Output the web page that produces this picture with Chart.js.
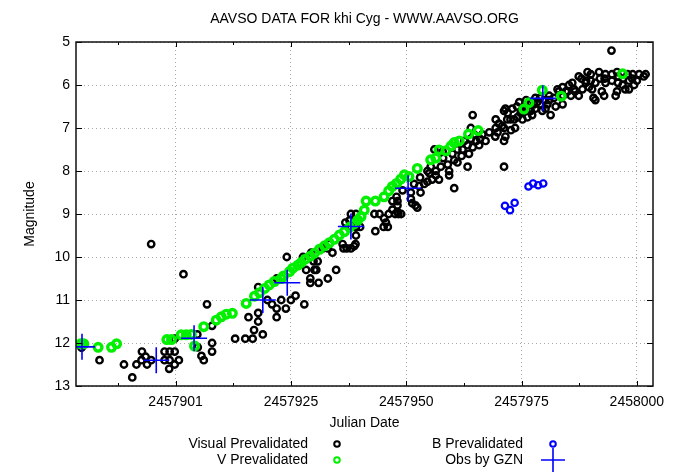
<!DOCTYPE html>
<html>
<head>
<meta charset="utf-8">
<title>AAVSO DATA FOR khi Cyg</title>
<script src="https://cdn.jsdelivr.net/npm/chart.js@4.4.0/dist/chart.umd.min.js"></script>
<style>
  html, body { margin: 0; padding: 0; background: #fff; }
  #wrap { width: 675px; height: 473px; }
</style>
</head>
<body>
<div id="wrap"><canvas id="lightCurve" width="675" height="473"></canvas></div>
<script>
// Light curve data: [Julian Date, magnitude]
const visualObs = [
    [2457879.6, 12.11], [2457883.5, 12.40], [2457888.8, 12.50], [2457890.6, 12.80],
    [2457891.5, 12.50], [2457892.7, 12.20], [2457893.5, 12.32], [2457892.6, 12.40],
    [2457893.8, 12.50], [2457894.7, 12.40], [2457894.7, 9.70], [2457897.6, 12.20],
    [2457898.7, 12.20], [2457899.8, 12.20], [2457897.6, 12.40], [2457898.7, 12.40],
    [2457899.8, 12.50], [2457898.6, 12.60], [2457900.7, 12.40], [2457899.8, 11.90],
    [2457901.7, 10.40], [2457904.7, 11.80], [2457904.8, 12.10], [2457905.6, 12.30],
    [2457906.1, 12.40], [2457906.8, 11.10], [2457907.9, 11.60], [2457907.9, 12.00],
    [2457907.9, 12.20], [2457912.9, 11.90], [2457915.1, 11.90], [2457915.8, 11.40],
    [2457916.7, 11.90], [2457917.0, 11.70], [2457917.9, 11.50], [2457917.9, 11.30],
    [2457917.9, 10.70], [2457918.9, 11.80], [2457919.9, 11.00], [2457920.9, 11.10],
    [2457921.9, 11.20], [2457921.9, 11.40], [2457921.9, 10.50], [2457922.9, 11.00],
    [2457923.9, 11.20], [2457924.1, 10.00], [2457925.0, 11.00], [2457926.0, 10.90],
    [2457927.9, 11.10], [2457927.6, 10.00], [2457928.3, 10.30], [2457929.2, 10.50],
    [2457929.2, 10.60], [2457930.1, 10.30], [2457931.0, 10.60], [2457929.9, 10.10],
    [2457930.8, 10.10], [2457929.4, 9.90], [2457930.5, 10.30], [2457931.9, 9.80],
    [2457933.0, 9.80], [2457933.3, 9.70], [2457934.0, 9.90], [2457934.8, 10.30],
    [2457933.0, 10.50], [2457936.2, 9.70], [2457936.4, 9.80], [2457937.1, 9.80],
    [2457938.0, 9.80], [2457938.7, 9.75], [2457939.0, 9.70], [2457939.1, 9.50],
    [2457936.8, 9.20], [2457938.0, 9.00], [2457939.1, 9.00], [2457937.7, 9.15],
    [2457938.0, 9.30], [2457939.1, 9.30], [2457940.0, 9.30], [2457943.3, 9.40],
    [2457943.1, 9.00], [2457944.2, 9.00], [2457945.2, 9.10], [2457946.2, 9.00],
    [2457945.6, 9.20], [2457945.1, 9.30], [2457946.0, 9.30], [2457947.0, 8.70],
    [2457947.9, 8.60], [2457948.1, 8.70], [2457948.1, 8.80], [2457948.1, 8.95],
    [2457947.0, 8.90], [2457948.3, 9.00], [2457947.6, 9.00], [2457948.9, 9.00],
    [2457949.2, 8.45], [2457951.0, 8.50], [2457951.0, 8.65], [2457951.3, 8.75],
    [2457952.0, 8.80], [2457952.4, 8.85], [2457951.7, 8.30], [2457952.8, 8.35],
    [2457953.1, 8.50], [2457953.9, 8.30], [2457954.6, 8.25], [2457955.6, 8.20],
    [2457956.4, 8.10], [2457957.1, 8.20], [2457954.6, 8.00], [2457955.3, 7.90],
    [2457956.4, 8.00], [2457957.5, 7.90], [2457959.3, 8.00], [2457959.3, 8.10],
    [2457960.4, 8.40], [2457956.1, 7.50], [2457957.9, 7.55], [2457960.4, 7.75],
    [2457961.1, 7.80], [2457961.1, 7.50], [2457962.2, 7.50], [2457962.6, 7.30],
    [2457963.3, 7.40], [2457963.6, 7.60], [2457963.3, 7.90], [2457964.4, 7.45],
    [2457965.2, 7.30], [2457965.8, 7.40], [2457966.5, 7.15], [2457967.2, 7.30],
    [2457964.0, 7.00], [2457964.4, 6.70], [2457964.7, 7.15], [2457969.4, 6.80],
    [2457969.4, 7.00], [2457969.3, 7.20], [2457969.8, 7.10], [2457970.1, 6.90],
    [2457970.8, 6.95], [2457971.2, 6.60], [2457971.5, 6.55], [2457971.2, 7.00],
    [2457971.2, 7.30], [2457971.5, 7.20], [2457971.9, 6.80], [2457972.6, 6.80],
    [2457972.7, 7.05], [2457971.2, 7.90], [2457973.4, 6.80], [2457973.6, 7.00],
    [2457974.1, 6.75], [2457974.8, 6.65], [2457975.2, 6.80], [2457975.5, 6.50],
    [2457976.3, 6.75], [2457976.6, 6.55], [2457977.0, 6.60], [2457977.3, 6.70],
    [2457977.7, 6.45], [2457978.4, 6.40], [2457979.0, 6.30], [2457980.2, 6.55],
    [2457980.6, 6.45], [2457981.3, 6.70], [2457982.4, 6.50], [2457982.8, 6.10],
    [2457983.1, 6.15], [2457983.9, 6.05], [2457983.9, 6.45], [2457984.6, 6.15],
    [2457985.3, 6.00], [2457985.7, 6.25], [2457986.4, 6.10], [2457986.6, 6.15],
    [2457987.4, 5.80], [2457987.4, 6.25], [2457988.2, 6.10], [2457988.9, 5.95],
    [2457989.3, 5.70], [2457989.6, 6.05], [2457990.0, 5.90], [2457990.3, 6.10],
    [2457990.6, 6.30], [2457991.0, 5.95], [2457991.0, 6.35], [2457991.8, 5.70],
    [2457992.4, 6.15], [2457992.9, 6.25], [2457993.2, 5.75], [2457993.2, 5.95],
    [2457994.5, 5.20], [2457994.6, 5.75], [2457994.6, 5.90], [2457995.4, 6.25],
    [2457995.7, 5.70], [2457995.7, 6.15], [2457995.9, 5.95], [2457996.9, 6.00],
    [2457997.5, 6.10], [2457998.0, 5.75], [2457998.3, 5.90], [2457998.3, 6.10],
    [2457999.1, 5.75], [2457999.4, 6.00], [2458000.5, 5.75], [2458001.5, 5.80],
    [2458001.9, 5.75], [2457974.5, 6.40], [2457978.0, 6.55], [2457979.5, 6.60],
    [2457981.0, 6.35], [2457976.0, 6.35],
    [2457972.0, 6.65], [2457973.0, 6.55], [2457974.0, 6.50], [2457975.0, 6.60],
    [2457976.0, 6.55], [2457977.0, 6.40], [2457978.0, 6.30], [2457979.0, 6.45],
    [2457980.0, 6.35], [2457981.0, 6.25], [2457982.0, 6.30], [2457984.0, 6.25],
    [2457985.0, 6.15], [2457986.0, 5.95], [2457988.0, 5.85], [2457989.0, 5.90],
    [2457990.0, 5.75], [2457992.0, 5.85], [2457993.0, 5.85], [2457996.0, 5.80],
    [2457997.0, 5.85], [2457999.0, 5.85], [2458000.0, 5.90],
    [2457958.0, 7.70], [2457959.0, 7.85], [2457960.0, 7.60], [2457962.0, 7.65],
    [2457964.0, 7.25], [2457966.0, 7.25], [2457968.0, 7.10], [2457953.0, 8.15],
    [2457955.0, 8.05]
];

const vObs = [
    [2457879.4, 12.02], [2457880.1, 12.02], [2457883.2, 12.10], [2457886.1, 12.10],
    [2457887.2, 12.02], [2457898.1, 11.92], [2457899.1, 11.92], [2457901.2, 11.81],
    [2457902.3, 11.81], [2457903.4, 11.80], [2457904.1, 12.07], [2457906.1, 11.62],
    [2457908.8, 11.47], [2457909.9, 11.39], [2457911.0, 11.33], [2457912.3, 11.31],
    [2457915.3, 11.08], [2457917.1, 10.91], [2457918.2, 10.83], [2457919.3, 10.73],
    [2457920.3, 10.65], [2457921.4, 10.57], [2457922.9, 10.50], [2457923.4, 10.44],
    [2457924.7, 10.34], [2457925.4, 10.26], [2457926.5, 10.19], [2457927.2, 10.13],
    [2457928.1, 10.05], [2457929.2, 9.98], [2457930.1, 9.91], [2457931.2, 9.82],
    [2457932.3, 9.74], [2457933.3, 9.67], [2457934.4, 9.59], [2457935.5, 9.49],
    [2457936.6, 9.41], [2457937.7, 9.31], [2457938.7, 9.23], [2457939.5, 9.14],
    [2457940.2, 9.06], [2457940.9, 8.91], [2457941.3, 8.70], [2457943.3, 8.70],
    [2457945.2, 8.60], [2457946.2, 8.46], [2457947.0, 8.36], [2457947.9, 8.29],
    [2457948.8, 8.19], [2457949.6, 8.09], [2457950.6, 8.13], [2457952.4, 7.94],
    [2457955.3, 7.74], [2457956.4, 7.70], [2457957.1, 7.51], [2457958.6, 7.53],
    [2457959.7, 7.42], [2457960.4, 7.34], [2457961.5, 7.30], [2457963.5, 7.14],
    [2457965.6, 7.06], [2457975.5, 6.56], [2457976.6, 6.41], [2457979.5, 6.12],
    [2457983.6, 6.26], [2457996.9, 5.74]
];

const bObs = [
    [2457971.4, 8.81], [2457972.5, 8.91], [2457973.5, 8.74], [2457976.5, 8.36],
    [2457977.5, 8.29], [2457978.6, 8.33], [2457979.7, 8.29]
];

const gznObs = [
    [2457879.7, 12.09], [2457895.8, 12.40], [2457904.0, 11.89], [2457918.9, 11.00],
    [2457924.2, 10.60], [2457938.0, 9.29], [2457950.4, 8.40], [2457979.6, 6.31]
];

const seriesLabels = ['Visual Prevalidated', 'V Prevalidated', 'B Prevalidated', 'Obs by GZN'];

const xRange = [2457878.4, 2458003.5];
const xTickValues = [2457900, 2457925, 2457950, 2457975, 2458000];
const xTickLabels = ['2457901', '2457925', '2457950', '2457975', '2458000'];
const xMinorTicks = [2457887.5, 2457912.5, 2457937.5, 2457962.5, 2457987.5];
const yRange = [5, 13];

const FONT = '"Liberation Sans", Arial, Helvetica, sans-serif';

const toPoints = (rows) => rows.map(([jd, mag]) => ({ x: jd, y: mag }));

// Draws the gnuplot style box, inward ticks, titles and the two column key
const gnuplotFrame = {
    id: 'gnuplotFrame',
    afterDatasetsDraw(chart) {
        const { ctx, chartArea: a, scales: { x, y } } = chart;
        ctx.save();
        ctx.strokeStyle = '#000';
        ctx.lineWidth = 1;
        ctx.beginPath();
        xTickValues.forEach(v => {
            const px = Math.round(x.getPixelForValue(v)) + 0.5;
            ctx.moveTo(px, a.bottom); ctx.lineTo(px, a.bottom - 5);
            ctx.moveTo(px, a.top); ctx.lineTo(px, a.top + 5);
        });
        xMinorTicks.forEach(v => {
            const px = Math.round(x.getPixelForValue(v)) + 0.5;
            ctx.moveTo(px, a.bottom); ctx.lineTo(px, a.bottom - 3);
            ctx.moveTo(px, a.top); ctx.lineTo(px, a.top + 3);
        });
        y.ticks.forEach(t => {
            const py = Math.round(y.getPixelForValue(t.value)) + 0.5;
            ctx.moveTo(a.left, py); ctx.lineTo(a.left + 6, py);
            ctx.moveTo(a.right, py); ctx.lineTo(a.right - 6, py);
        });
        ctx.stroke();

        ctx.lineWidth = 1.5;
        ctx.strokeStyle = '#111';
        ctx.strokeRect(a.left, a.top, a.right - a.left, a.bottom - a.top);
        ctx.restore();
    },
    afterDraw(chart) {
        const { ctx, chartArea: a } = chart;
        const midX = (a.left + a.right) / 2;
        ctx.save();
        ctx.fillStyle = '#000';
        ctx.font = '14px ' + FONT;
        ctx.textAlign = 'center';
        ctx.textBaseline = 'middle';
        ctx.fillText('AAVSO DATA FOR khi Cyg - WWW.AAVSO.ORG', midX, 19);
        ctx.fillText('Julian Date', midX, 423);

        ctx.save();
        ctx.translate(30, (a.top + a.bottom) / 2);
        ctx.rotate(-Math.PI / 2);
        ctx.fillText('Magnitude', 0, 0);
        ctx.restore();

        // key: text right aligned, marker to its right
        const slots = [
            { textX: 308, markX: 337, y: 444 },
            { textX: 308, markX: 337, y: 460 },
            { textX: 523, markX: 553, y: 444 },
            { textX: 523, markX: 553, y: 460 }
        ];
        ctx.textAlign = 'right';
        chart.data.datasets.forEach((ds, i) => {
            const s = slots[i];
            ctx.fillStyle = '#000';
            ctx.fillText(ds.label, s.textX, s.y);
            drawMarker(ctx, ds, s.markX, s.y, ds.legendRadius);
        });
        ctx.restore();
    }
};

function drawMarker(ctx, ds, cx, cy, r) {
    ctx.save();
    ctx.strokeStyle = ds.borderColor;
    ctx.lineWidth = ds.pointStyle === 'cross' ? ds.pointBorderWidth : 2;
    ctx.beginPath();
    if (ds.pointStyle === 'cross') {
        ctx.moveTo(cx - r, cy); ctx.lineTo(cx + r, cy);
        ctx.moveTo(cx, cy - r); ctx.lineTo(cx, cy + r);
    } else {
        ctx.arc(cx, cy, r, 0, Math.PI * 2);
    }
    ctx.stroke();
    ctx.restore();
}

class LightCurveChart {
    constructor(canvasId) {
        this.canvas = document.getElementById(canvasId);
        this.chart = null;
        this.init();
    }

    init() {
        this.chart = new Chart(this.canvas, {
            type: 'scatter',
            data: {
                datasets: [
                    {
                        label: seriesLabels[0],
                        data: toPoints(visualObs),
                        pointStyle: 'circle',
                        pointRadius: 3.2,
                        pointBorderWidth: 2.4,
                        borderColor: '#000000',
                        backgroundColor: 'rgba(0,0,0,0)',
                        legendRadius: 2.8,
                        order: 4
                    },
                    {
                        label: seriesLabels[1],
                        data: toPoints(vObs),
                        pointStyle: 'circle',
                        pointRadius: 3.8,
                        pointBorderWidth: 3.4,
                        borderColor: '#00f000',
                        backgroundColor: 'rgba(0,240,0,0)',
                        legendRadius: 2.8,
                        order: 3
                    },
                    {
                        label: seriesLabels[2],
                        data: toPoints(bObs),
                        pointStyle: 'circle',
                        pointRadius: 3.2,
                        pointBorderWidth: 2.2,
                        borderColor: '#0000ff',
                        backgroundColor: 'rgba(0,0,0,0)',
                        legendRadius: 2.8,
                        order: 2
                    },
                    {
                        label: seriesLabels[3],
                        data: toPoints(gznObs),
                        pointStyle: 'cross',
                        pointRadius: 13,
                        pointBorderWidth: 1.6,
                        borderColor: '#0000ff',
                        backgroundColor: '#0000ff',
                        legendRadius: 12,
                        order: 1
                    }
                ]
            },
            options: {
                responsive: false,
                animation: false,
                events: [],
                layout: { padding: { top: 42, right: 22, left: 0, bottom: 0 } },
                plugins: {
                    legend: { display: false },
                    tooltip: { enabled: false },
                    title: { display: false }
                },
                scales: {
                    x: {
                        type: 'linear',
                        min: xRange[0],
                        max: xRange[1],
                        afterFit: (scale) => { scale.height = 87; },
                        afterBuildTicks: (scale) => {
                            scale.ticks = xTickValues.map(v => ({ value: v }));
                        },
                        ticks: {
                            padding: 8,
                            color: '#000',
                            font: { family: FONT, size: 14 },
                            maxRotation: 0,
                            autoSkip: false,
                            callback: (value, index) => xTickLabels[index]
                        },
                        grid: { color: '#a8a8a8', lineWidth: 1, drawTicks: false },
                        border: { display: false, dash: [1, 3] }
                    },
                    y: {
                        type: 'linear',
                        reverse: true,
                        min: yRange[0],
                        max: yRange[1],
                        afterFit: (scale) => { scale.width = 76; },
                        ticks: {
                            stepSize: 1,
                            padding: 6,
                            color: '#000',
                            font: { family: FONT, size: 14 }
                        },
                        grid: { color: '#a8a8a8', lineWidth: 1, drawTicks: false },
                        border: { display: false, dash: [1, 3] }
                    }
                }
            },
            plugins: [gnuplotFrame]
        });
    }
}

document.addEventListener('DOMContentLoaded', () => {
    new LightCurveChart('lightCurve');
});
</script>
</body>
</html>
